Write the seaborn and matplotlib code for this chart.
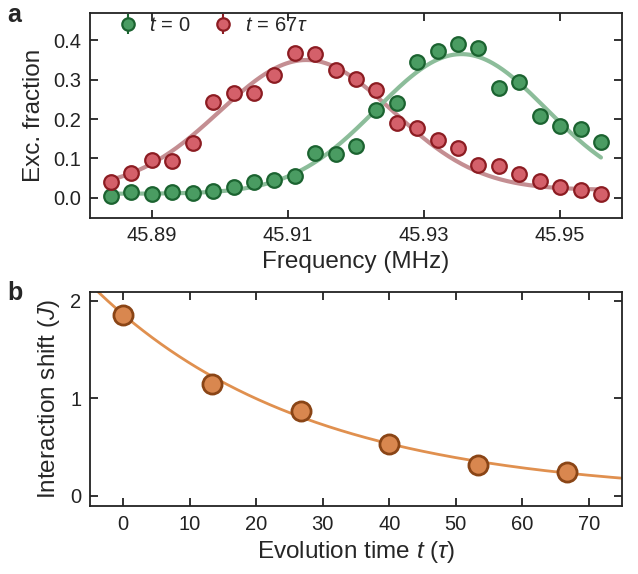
import numpy as np
import pandas as pd
import seaborn as sns
import matplotlib.pyplot as plt

# ---------------------------------------------------------
# Data
# ---------------------------------------------------------
freq = [45.884 + 0.003 * k for k in range(25)]
exc_t0 = [0.003, 0.014, 0.009, 0.015, 0.011, 0.018, 0.026, 0.039, 0.045, 0.056,
          0.114, 0.111, 0.132, 0.223, 0.241, 0.344, 0.373, 0.391, 0.381, 0.279,
          0.294, 0.208, 0.182, 0.174, 0.142]
exc_t67 = [0.039, 0.063, 0.095, 0.094, 0.138, 0.242, 0.266, 0.266, 0.311, 0.369,
           0.365, 0.324, 0.301, 0.275, 0.189, 0.177, 0.146, 0.127, 0.082, 0.081,
           0.061, 0.042, 0.028, 0.020, 0.010]
exc_err = [0.012] * 25  # hidden behind the markers

# gaussian fit parameters (offset, amplitude, centre, sigma)
fit_t0 = (0.010, 0.355, 45.9355, 0.01248)
fit_t67 = (0.020, 0.330, 45.9127, 0.0127)

evo_time = [0, 13.33, 26.67, 40, 53.33, 66.67]
shift = [1.856, 1.146, 0.868, 0.532, 0.319, 0.237]
# exponential decay fit (amplitude, time constant)
fit_shift = (1.86, 32.0)

# ---------------------------------------------------------
# Style
# ---------------------------------------------------------
sns.set_theme(style="ticks")
plt.rcParams["font.family"] = ["Liberation Sans", "DejaVu Sans"]
plt.rcParams["mathtext.fontset"] = "custom"
plt.rcParams["mathtext.rm"] = "Liberation Sans"
plt.rcParams["mathtext.it"] = "Liberation Sans:italic"
plt.rcParams["axes.linewidth"] = 1.3
plt.rcParams["axes.edgecolor"] = "#222222"

green_fill, green_edge, green_line = "#4a9c62", "#1b6330", "#8cbd9a"
red_fill, red_edge, red_line = "#d4606a", "#8c1c22", "#c48e92"
orange_fill, orange_edge, orange_line = "#d9874f", "#8a4516", "#e0904f"

fig = plt.figure(figsize=(6.38, 5.74), dpi=100)
ax_a = fig.add_axes([0.141, 0.620, 0.834, 0.357])
ax_b = fig.add_axes([0.141, 0.118, 0.834, 0.373])


def gauss(x, p):
    c, a, x0, s = p
    return c + a * np.exp(-(x - x0) ** 2 / (2 * s ** 2))


# ---------------------------------------------------------
# Panel a
# ---------------------------------------------------------
xf = np.linspace(freq[0], freq[-1], 300)
sns.lineplot(x=xf, y=gauss(xf, fit_t67), ax=ax_a, color=red_line, lw=3, zorder=2)
sns.lineplot(x=xf, y=gauss(xf, fit_t0), ax=ax_a, color=green_line, lw=3, zorder=2)

ax_a.errorbar(freq, exc_t0, yerr=exc_err, fmt="o", ms=10.5, mfc=green_fill,
              mec=green_edge, mew=1.6, ecolor=green_edge, elinewidth=1.5,
              capsize=0, zorder=3, label=r"$t\,=\,0$")
ax_a.errorbar(freq, exc_t67, yerr=exc_err, fmt="o", ms=10.5, mfc=red_fill,
              mec=red_edge, mew=1.6, ecolor=red_edge, elinewidth=1.5,
              capsize=0, zorder=3, label=r"$t\,=\,67\tau$")

ax_a.set_xlim(45.8809, 45.9591)
ax_a.set_ylim(-0.052, 0.469)
ax_a.set_xticks([45.89, 45.91, 45.93, 45.95])
ax_a.set_xticklabels(["45.89", "45.91", "45.93", "45.95"])
ax_a.set_yticks([0.0, 0.1, 0.2, 0.3, 0.4])
ax_a.set_yticklabels(["0.0", "0.1", "0.2", "0.3", "0.4"])
ax_a.set_xlabel("Frequency (MHz)", fontsize=17.5, labelpad=4)
ax_a.set_ylabel("Exc. fraction", fontsize=17.5, labelpad=6)
ax_a.legend(loc="upper left", ncol=2, frameon=False, fontsize=14.5,
            markerscale=0.85, handlelength=1.2, handletextpad=0.45,
            columnspacing=1.0, borderaxespad=0.1,
            bbox_to_anchor=(0.03, 1.035))

# ---------------------------------------------------------
# Panel b
# ---------------------------------------------------------
tf = np.linspace(-5, 75, 300)
sns.lineplot(x=tf, y=fit_shift[0] * np.exp(-tf / fit_shift[1]), ax=ax_b,
             color=orange_line, lw=2, zorder=2)
sns.scatterplot(x=evo_time, y=shift, ax=ax_b, s=190, color=orange_fill,
                edgecolor=orange_edge, linewidth=2, zorder=3)

ax_b.set_xlim(-5, 75)
ax_b.set_ylim(-0.11, 2.09)
ax_b.set_xticks(range(0, 80, 10))
ax_b.set_yticks([0, 1, 2])
ax_b.set_xlabel(r"Evolution time $t$ ($\tau$)", fontsize=17.5, labelpad=4)
ax_b.set_ylabel(r"Interaction shift ($J$)", fontsize=17.5, labelpad=6)

for ax in (ax_a, ax_b):
    ax.tick_params(direction="in", length=6, width=1.3, top=True, right=True,
                   labelsize=14.5, pad=6, colors="#222222")

fig.text(0.012, 0.995, "a", fontsize=18, fontweight="bold", va="top")
fig.text(0.012, 0.510, "b", fontsize=18, fontweight="bold", va="top")

fig.savefig("out.png", dpi=100)
